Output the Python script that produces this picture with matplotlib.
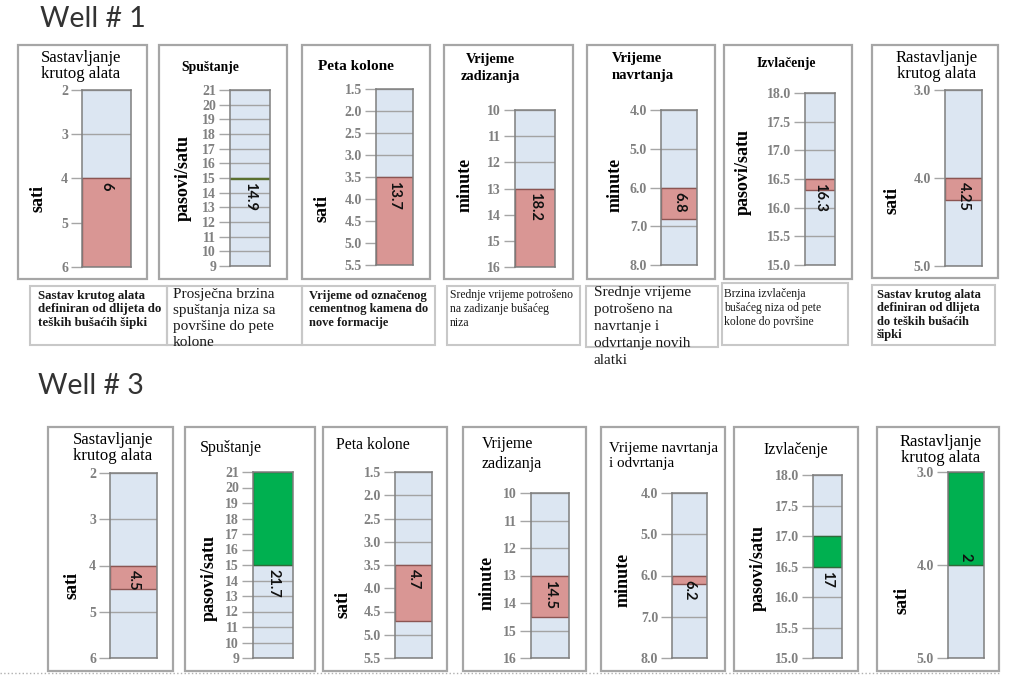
import matplotlib
matplotlib.use('Agg')
import matplotlib.pyplot as plt
import numpy as np
from matplotlib.patches import Rectangle
from matplotlib.lines import Line2D
from matplotlib.transforms import offset_copy

# data
well1_titles = ['Sastavljanje\nkrutog alata', 'Spuštanje', 'Peta kolone', 'Vrijeme\nzadizanja',
                'Vrijeme\nnavrtanja', 'Izvlačenje', 'Rastavljanje\nkrutog alata']
well3_titles = ['Sastavljanje\nkrutog alata', 'Spuštanje', 'Peta kolone', 'Vrijeme\nzadizanja',
                'Vrijeme navrtanja\ni odvrtanja', 'Izvlačenje', 'Rastavljanje\nkrutog alata']
axis_labels = ['sati', 'pasovi/satu', 'sati', 'minute', 'minute', 'pasovi/satu', 'sati']
axis_min = [2, 9, 1.5, 10, 4.0, 15.0, 3.0]
axis_max = [6, 21, 5.5, 16, 8.0, 18.0, 5.0]
axis_step = [1, 1, 0.5, 1, 1.0, 0.5, 1.0]
inverted = [True, False, True, True, True, False, True]
targets = [4, 15, 3.5, 13, 6.0, 16.5, 4.0]
well1_values = [6, 14.9, 13.7, 18.2, 6.8, 16.3, 4.25]
well3_values = [4.5, 21.7, 4.7, 14.5, 6.2, 17, 2]
descriptions = ['Sastav krutog alata\ndefiniran od dlijeta do\nteških bušaćih šipki',
                'Prosječna brzina\nspuštanja niza sa\npovršine do pete\nkolone',
                'Vrijeme od označenog\ncementnog kamena do\nnove formacije',
                'Srednje vrijeme potrošeno\nna zadizanje bušaćeg\nniza',
                'Srednje vrijeme\npotrošeno na\nnavrtanje i\nodvrtanje novih\nalatki',
                'Brzina izvlačenja\nbušaćeg niza od pete\nkolone do površine',
                'Sastav krutog alata\ndefiniran od dlijeta\ndo teških bušaćih\nšipki']

# styles
RED, GREEN, OLIVE = '#d99694', '#00b050', '#77933c'
edge_of = {RED: '#8c5553', GREEN: '#2e6b3a', OLIVE: '#5a7030'}
well1_colors = [RED, OLIVE, RED, RED, RED, RED, RED]
well3_colors = [RED, GREEN, RED, RED, RED, GREEN, GREEN]
well1_label_up = [False] * 7
well3_label_up = [False] * 6 + [True]
tick_fmt = ['{:.0f}', '{:.0f}', '{:.1f}', '{:.0f}', '{:.1f}', '{:.1f}', '{:.1f}']
SERIF = 'Liberation Serif'

W, H = 1024, 676
fig = plt.figure(figsize=(W / 100, H / 100), dpi=100)


def fbox(x0, y0, x1, y1):
    return [x0 / W, 1 - y1 / H, (x1 - x0) / W, (y1 - y0) / H]


def frame(x0, y0, x1, y1, color='#a6a6a6', lw=1.6):
    fig.add_artist(Rectangle((x0 / W, 1 - y1 / H), (x1 - x0) / W, (y1 - y0) / H,
                             transform=fig.transFigure, fill=False, ec=color, lw=lw))


def ptext(x, y, s, **kw):
    fig.text(x / W, 1 - y / H, s, **kw)


# layout (pixels)
w1_frames = [(18, 45, 147, 279), (159, 45, 287, 279), (302, 45, 430, 279), (444, 45, 573, 279),
             (587, 45, 715, 279), (724, 45, 852, 279), (872, 45, 998, 278)]
w1_bars = [(82, 90, 131, 267), (230, 90, 270, 266), (376, 89, 413, 265), (515, 110, 555, 267),
           (661, 110, 697, 265), (805, 93, 835, 265), (945, 90, 982, 266)]
w1_ylab = [(38, 198), (183, 178), (322, 208), (465, 185), (615, 185), (743, 172), (892, 200)]
w1_tpos = [(81, 66, 'center'), (210, 68, 'center'), (356, 66, 'center'), (490, 68, 'center'),
           (612, 67, 'left'), (786, 63, 'center'), (937, 66, 'center')]
w1_tstyle = [(12, 'normal'), (9.8, 'bold'), (11, 'bold'), (10.4, 'bold'), (10.6, 'bold'),
             (9.8, 'bold'), (12, 'normal')]

w3_frames = [(48, 427, 173, 671), (185, 427, 315, 671), (323, 427, 447, 671), (463, 427, 586, 671),
             (601, 427, 725, 671), (734, 427, 858, 671), (877, 427, 999, 671)]
w3_bars = [(110, 473, 157, 658), (253, 472, 293, 658), (395, 472, 432, 658), (531, 493, 569, 658),
           (672, 493, 707, 658), (813, 475, 842, 658), (948, 472, 984, 658)]
w3_ylab = [(72, 585), (209, 578), (343, 604), (487, 583), (623, 580), (758, 568), (902, 600)]
w3_tpos = [(113, 448, 'center'), (200, 448, 'left'), (336, 445, 'left'), (482, 454, 'left'),
           (609, 456, 'left'), (763, 450, 'left'), (941, 450, 'center')]
w3_tstyle = [(12, 'normal'), (11.5, 'normal'), (11.3, 'normal'), (11.5, 'normal'), (10.9, 'normal'),
             (11.3, 'normal'), (12, 'normal')]

d_frames = [(30, 286, 167, 345), (167, 286, 302, 345), (302, 286, 435, 345), (447, 286, 580, 345),
            (586, 286, 718, 347), (722, 283, 848, 345), (872, 285, 995, 345)]
d_tpos = [(38, 290), (173, 288), (309, 290), (450, 289), (594, 286), (724, 288), (877, 289)]
d_style = [(9.4, 'bold', 1.15), (11, 'normal', 1.3), (9, 'bold', 1.15), (8.4, 'normal', 1.2),
           (11, 'normal', 1.4), (8.4, 'normal', 1.2), (9, 'bold', 1.15)]


def gauge(i, bar, value, color, label_up):
    ax = fig.add_axes(fbox(*bar))
    lo, hi = axis_min[i], axis_max[i]
    ax.set_xlim(0, 1)
    if inverted[i]:
        ax.set_ylim(hi, lo)
    else:
        ax.set_ylim(lo, hi)
    ax.bar(0.5, hi - lo, bottom=lo, width=1, color='#dce6f2', zorder=1)
    ticks = np.arange(lo, hi + axis_step[i] / 2, axis_step[i])
    ax.set_yticks(ticks)
    ax.set_yticklabels([tick_fmt[i].format(t) for t in ticks], fontfamily=SERIF,
                       fontweight='bold')
    ax.yaxis.grid(True, color='#a3a3a3', lw=1)
    ax.set_xticks([])
    ax.tick_params(axis='y', length=8, width=1, color='#a6a6a6', labelcolor='#808080',
                   labelsize=10, pad=2)
    for s in ax.spines.values():
        s.set_color('#7f7f7f')
        s.set_linewidth(1.1)
    v = min(max(value, lo), hi)
    ax.bar(0.5, v - targets[i], bottom=targets[i], width=1, color=color,
           edgecolor=edge_of[color], lw=1, zorder=2)
    dy = 4 if label_up else -4
    tr = offset_copy(ax.transData, fig=fig, x=0, y=dy, units='dots')
    ax.text(0.5, targets[i], f'{value:g}', transform=tr, rotation=270, ha='center',
            va='bottom' if label_up else 'top', fontsize=10.5, fontfamily='Lato',
            fontweight='bold', color='#111111', zorder=3)
    return ax


def draw_row(frames, bars, ylab, tpos, tstyle, titles, values, colors, label_up, lsp):
    for i in range(7):
        frame(*frames[i])
        gauge(i, bars[i], values[i], colors[i], label_up[i])
        x, y = ylab[i]
        ptext(x, y, axis_labels[i], rotation=90, ha='center', va='center', fontsize=13,
              fontweight='bold', fontfamily=SERIF, color='black')
        tx, ty, ha = tpos[i]
        size, weight = tstyle[i]
        sp = 1.05 if size >= 12 else lsp
        ptext(tx, ty, titles[i], ha=ha, va='center', fontsize=size, fontweight=weight,
              fontfamily=SERIF, color='black', linespacing=sp, multialignment=ha)


ptext(40, 19, 'Well # 1', fontsize=20.5, fontfamily='Lato', color='#333333', va='center')
ptext(38, 386, 'Well # 3', fontsize=20.5, fontfamily='Lato', color='#333333', va='center')

draw_row(w1_frames, w1_bars, w1_ylab, w1_tpos, w1_tstyle, well1_titles, well1_values,
         well1_colors, well1_label_up, 1.45)
draw_row(w3_frames, w3_bars, w3_ylab, w3_tpos, w3_tstyle, well3_titles, well3_values,
         well3_colors, well3_label_up, 1.25)

for i in range(7):
    frame(*d_frames[i], color='#c8c8c8', lw=1.5)
    x, y = d_tpos[i]
    size, weight, sp = d_style[i]
    ptext(x, y, descriptions[i], ha='left', va='top', fontsize=size, fontweight=weight,
          fontfamily=SERIF, color='#1a1a1a', linespacing=sp)

fig.add_artist(Line2D([0, 1000 / W], [1 - 673 / H, 1 - 673 / H], transform=fig.transFigure,
                      color='#b0b0b0', lw=1, ls=':'))

fig.savefig('out.png', dpi=100)
